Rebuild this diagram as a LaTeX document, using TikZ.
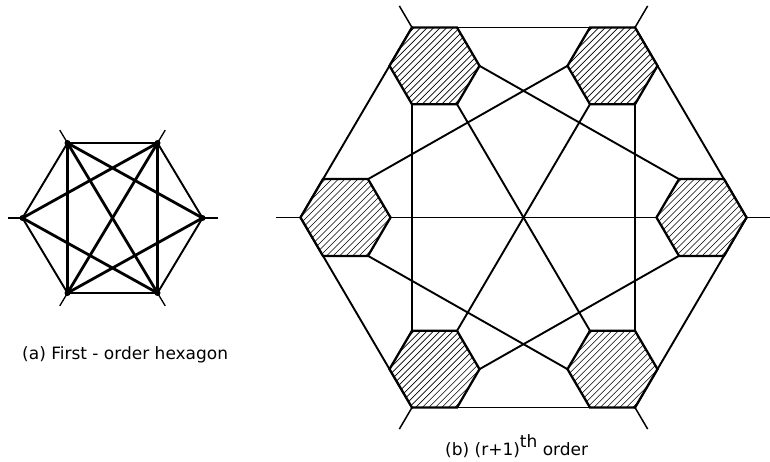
\documentclass[tikz,border=0pt]{standalone}
\usepackage{fontspec}
\setmainfont{DejaVu Sans}
\usetikzlibrary{calc}
\newcommand\smallhexpath[1]{($(#1)+(45,0)$) -- ($(#1)+(22.5,-38.4)$) -- ($(#1)+(-22.5,-38.4)$) -- ($(#1)+(-45,0)$) -- ($(#1)+(-22.5,38.4)$) -- ($(#1)+(22.5,38.4)$) -- cycle}
\begin{document}
\begin{tikzpicture}[x=1pt,y=-1pt,
  aline/.style={line width=2.8pt, line cap=round},
  aouter/.style={line width=1.9pt, line cap=round},
  astub/.style={line width=1.3pt},
  bline/.style={line width=1.9pt, line cap=round},
  bstub/.style={line width=1.5pt},
  hexout/.style={line width=2.3pt, line join=miter},
  hatch/.style={line width=0.6pt},
  dot/.style={circle, fill=black, inner sep=0pt, minimum size=6pt},
  captext/.style={font=\fontsize{17}{20}\selectfont, inner sep=0pt}]
\useasboundingbox (0,0) rectangle (770,462);

% ---------- (a) first-order hexagon ----------
\coordinate (ac) at (112.5,218);
\foreach \i/\ang in {0/0,1/60,2/120,3/180,4/240,5/300}
  \coordinate (a\i) at ($(ac)+({90*cos(\ang)},{-86.6*sin(\ang)})$);
\foreach \i/\j in {0/2,0/4,1/3,1/4,1/5,2/4,2/5,3/5,1/2,4/5}
  \draw[aline] (a\i) -- (a\j);
\foreach \i/\j in {0/1,2/3,3/4,5/0}
  \draw[aouter] (a\i) -- (a\j);
\foreach \i in {0,...,5} {
  \draw[astub] (a\i) -- ($(a\i)!-15pt!(ac)$);
  \node[dot] (ad\i) at (a\i) {};
}
\node[captext, anchor=base west] (capa) at (22,359) {(a) First - order hexagon};

% ---------- (b) (r+1)th order ----------
\coordinate (bc) at (523.5,217.5);
\foreach \i/\ang in {0/0,1/60,2/120,3/180,4/240,5/300} {
  \coordinate (b\i) at ($(bc)+({223*cos(\ang)},{-219.4*sin(\ang)})$);
  \coordinate (s\i) at ($(bc)!0.7982!(b\i)$);
}
\foreach \i/\j in {0/1,1/2,2/3,3/4,4/5,5/0,0/2,0/3,0/4,1/3,1/4,1/5,2/4,2/5,3/5}
  \draw[bline] (b\i) -- (b\j);
\foreach \i in {0,...,5} {
  \fill[white] \smallhexpath{s\i};
  \begin{scope}
    \clip \smallhexpath{s\i};
    \foreach \k in {-104,-97.5,...,104}
      \draw[hatch] ($(s\i)+(\k-60,60)$) -- ($(s\i)+(\k+60,-60)$);
  \end{scope}
  \draw[hexout] \smallhexpath{s\i};
  \draw[bstub] (b\i) -- ($(b\i)!-25pt!(bc)$);
}
\node[captext, anchor=base west] (capb) at (445,455) {(b) (r+1)\raisebox{0.42em}{th} order};
\end{tikzpicture}
\end{document}
